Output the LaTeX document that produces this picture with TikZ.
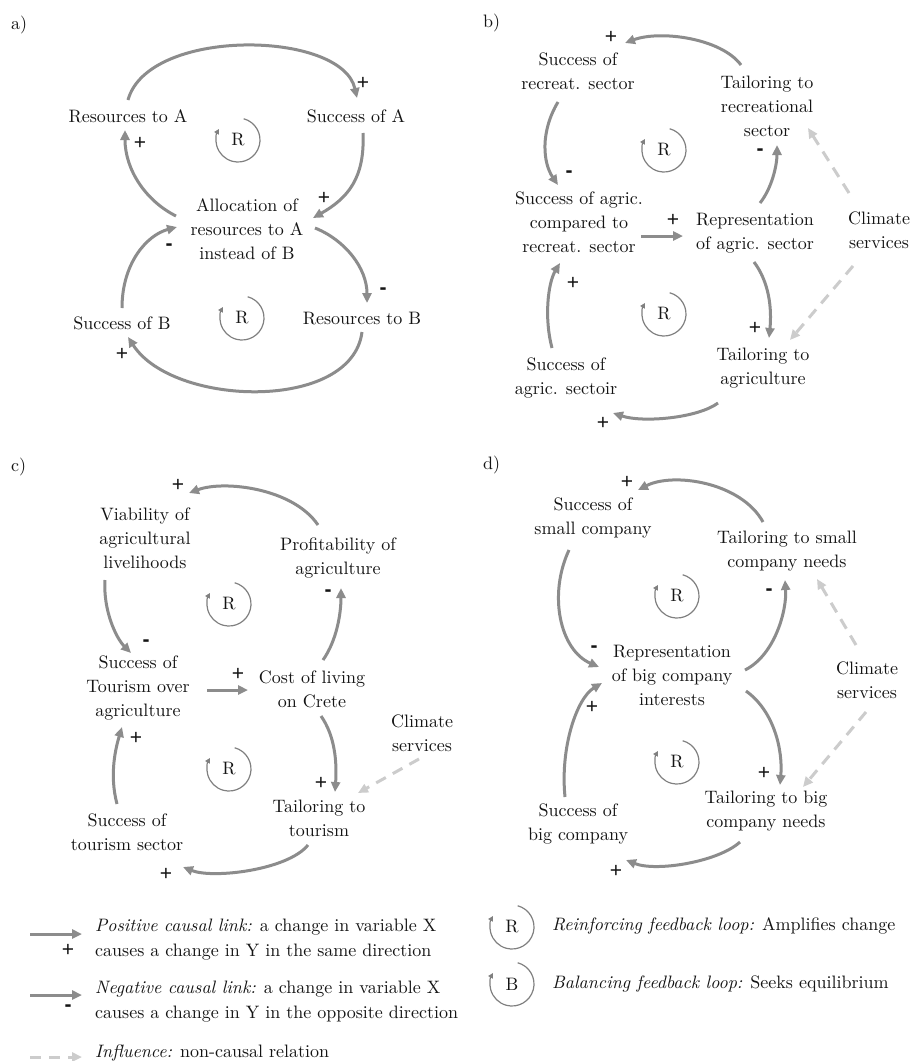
\documentclass[tikz,border=0pt]{standalone}
\usepackage{fontspec}
\setmainfont{lmroman10-regular.otf}[
  BoldFont=lmroman10-bold.otf,
  ItalicFont=lmroman10-italic.otf,
  BoldItalicFont=lmroman10-bolditalic.otf]
\newfontfamily\signfont{Liberation Sans}
\usetikzlibrary{arrows.meta,calc}
\definecolor{linkgray}{RGB}{140,140,140}
\definecolor{infgray}{RGB}{204,204,204}
\definecolor{loopgray}{RGB}{128,128,128}
\definecolor{inkcol}{RGB}{20,20,20}

\tikzset{
  var/.style={align=center, inner sep=0pt, text=inkcol, font=\fontsize{18}{24}\selectfont},
  link/.style={draw=linkgray, line width=3pt, -{Triangle[length=10pt,width=9pt]}},
  influence/.style={draw=infgray, line width=3pt, dash pattern=on 11pt off 8pt, -{Triangle[length=10pt,width=9pt]}},
  plus/.style={font=\signfont\fontsize{21}{21}\selectfont, inner sep=0pt, text=inkcol},
  minus/.style={font=\signfont\bfseries\fontsize{21}{21}\selectfont, inner sep=0pt, text=inkcol},
  panel/.style={anchor=west, inner sep=0pt, text=inkcol, font=\fontsize{18}{24}\selectfont},
  legend/.style={anchor=west, align=left, inner sep=0pt, text=inkcol, font=\fontsize{18}{25}\selectfont},
  pics/fbloop/.style={code={
    \begin{scope}[x=1pt,y=1pt]
      \draw[draw=loopgray, line width=1.2pt, -{Triangle[length=5pt,width=5pt]}]
        (75:22) arc[start angle=75, end angle=-210, radius=22];
      \node[var] (-txt) at (0,0) {#1};
    \end{scope}}},
}

\begin{document}
\begin{tikzpicture}[x=1pt, y=-1pt]
\fill[white] (0,0) rectangle (914,1061);
\useasboundingbox (0,0) rectangle (914,1061);

% ---------------- a) ----------------
\node[panel] (aLab) at (11,25) {a)};
\node[var] (aRA) at (128,116) {Resources to A};
\node[var] (aSA) at (356,116) {Success of A};
\node[var] (aAl) at (247,229) {Allocation of\\resources to A\\instead of B};
\node[var] (aSB) at (122,323) {Success of B};
\node[var] (aRB) at (362,319) {Resources to B};
\pic (aL1) at (238,140) {fbloop=R};
\pic (aL2) at (242,318) {fbloop=R};

\draw[link] ($(aRA)+(0,-16)$) .. controls +(20,-73) and +(-15,-68) .. ($(aSA)+(1,-18)$);
\draw[link] ($(aSA)+(7,17)$) .. controls +(2,45) and +(35,-20) .. ($(aAl)+(66,-11)$);
\draw[link] ($(aAl)+(-71,-13)$) .. controls +(-30,-15) and +(0,40) .. ($(aRA)+(-3,14)$);
\draw[link] ($(aAl)+(68,-1)$) .. controls +(30,12) and +(0,-35) .. ($(aRB)+(5,-16)$);
\draw[link] ($(aRB)+(0,13)$) .. controls +(-10,80) and +(45,70) .. ($(aSB)+(6,14)$);
\draw[link] ($(aSB)+(0,-15)$) .. controls +(0,-45) and +(-30,8) .. ($(aAl)+(-70,-2)$);

\node[plus] (aP1) at (363,83) {+};
\node[plus] (aP2) at (324,198) {+};
\node[plus] (aP3) at (140,143) {+};
\node[minus] (aM1) at (383,291) {-};
\node[plus] (aP4) at (122,354) {+};
\node[minus] (aM2) at (169,247) {-};

% ---------------- b) ----------------
\node[panel] (bLab) at (483,23) {b)};
\node[var] (bSR) at (578,71) {Success of\\recreat. sector};
\node[var] (bTR) at (767,106) {Tailoring to\\recreational\\sector};
\node[var] (bSC) at (579,222) {Success of agric.\\compared to\\recreat. sector};
\node[var] (bRep) at (755,233) {Representation\\of agric. sector};
\node[var] (bCS) at (879,230) {Climate\\services};
\node[var] (bTA) at (763,368) {Tailoring to\\agriculture};
\node[var] (bSA) at (566,378) {Success of\\agric. sectoir};
\pic (bL1) at (664,150) {fbloop=R};
\pic (bL2) at (664,314) {fbloop=R};

\draw[link] ($(bTR)+(-26,-41)$) .. controls +(-20,-27) and +(35,-13) .. ($(bSR)+(47,-28)$);
\draw[link] ($(bSR)+(-20,31)$) .. controls +(-18,30) and +(-15,-22) .. ($(bSC)+(-21,-37)$);
\draw[link] ($(bSC)+(62,14)$) -- ($(bRep)+(-72,3)$);
\draw[link] ($(bRep)+(5,-30)$) .. controls +(12,-15) and +(0,20) .. ($(bTR)+(10,39)$);
\draw[link] ($(bRep)+(-1,29)$) .. controls +(15,20) and +(3,-30) .. ($(bTA)+(6,-30)$);
\draw[link] ($(bTA)+(-45,35)$) .. controls +(-20,15) and +(30,10) .. ($(bSA)+(47,35)$);
\draw[link] ($(bSA)+(-14,-30)$) .. controls +(-8,-30) and +(-12,20) .. ($(bSC)+(-19,41)$);
\draw[influence] ($(bCS)+(-30,-37)$) -- ($(bTR)+(41,22)$);
\draw[influence] ($(bCS)+(-26,36)$) -- ($(bTA)+(27,-28)$);

\node[plus] (bP1) at (611,37) {+};
\node[minus] (bM1) at (569,174) {-};
\node[plus] (bP2) at (673,220) {+};
\node[minus] (bM2) at (760,152) {-};
\node[plus] (bP3) at (755,328) {+};
\node[plus] (bP4) at (603,423) {+};
\node[plus] (bP5) at (573,283) {+};

% ---------------- c) ----------------
\node[panel] (cLab) at (11,467) {c)};
\node[var] (cVi) at (145,538) {Viability of\\agricultural\\livelihoods};
\node[var] (cPr) at (338,558) {Profitability of\\agriculture};
\node[var] (cSt) at (138,688) {Success of\\Tourism over\\agriculture};
\node[var] (cCo) at (312,689) {Cost of living\\on Crete};
\node[var] (cCS) at (422,733) {Climate\\services};
\node[var] (cTT) at (319,818) {Tailoring to\\tourism};
\node[var] (cSs) at (127,832) {Success of\\tourism sector};
\pic (cL1) at (229,604) {fbloop=R};
\pic (cL2) at (229,769) {fbloop=R};

\draw[link] ($(cPr)+(-20,-33)$) .. controls +(-25,-37) and +(35,-13) .. ($(cVi)+(44,-45)$);
\draw[link] ($(cVi)+(-40,42)$) .. controls +(-2,30) and +(-15,-15) .. ($(cSt)+(-7,-35)$);
\draw[link] ($(cSt)+(69,2)$) -- ($(cCo)+(-64,1)$);
\draw[link] ($(cCo)+(11,-29)$) .. controls +(14,-20) and +(0,25) .. ($(cPr)+(3,30)$);
\draw[link] ($(cCo)+(9,27)$) .. controls +(14,20) and +(2,-30) .. ($(cTT)+(16,-26)$);
\draw[link] ($(cTT)+(-11,27)$) .. controls +(-20,25) and +(30,12) .. ($(cSs)+(56,35)$);
\draw[link] ($(cSs)+(-10,-28)$) .. controls +(-8,-30) and +(-6,20) .. ($(cSt)+(-16,39)$);
\draw[influence] ($(cCS)+(-3,26)$) -- ($(cTT)+(39,-25)$);

\node[plus] (cP1) at (178,485) {+};
\node[minus] (cM1) at (146,643) {-};
\node[plus] (cP2) at (238,674) {+};
\node[minus] (cM2) at (328,593) {-};
\node[plus] (cP3) at (321,783) {+};
\node[plus] (cP4) at (166,874) {+};
\node[plus] (cP5) at (136,738) {+};

% ---------------- d) ----------------
\node[panel] (dLab) at (483,465) {d)};
\node[var] (dSs) at (593,518) {Success of\\small company};
\node[var] (dTs) at (787,551) {Tailoring to small\\company needs};
\node[var] (dRe) at (672,675) {Representation\\of big company\\interests};
\node[var] (dCS) at (867,680) {Climate\\services};
\node[var] (dTb) at (766,811) {Tailoring to big\\company needs};
\node[var] (dSb) at (578,824) {Success of\\big company};
\pic (dL1) at (677,596) {fbloop=R};
\pic (dL2) at (677,762) {fbloop=R};

\draw[link] ($(dTs)+(-24,-29)$) .. controls +(-22,-40) and +(35,-18) .. ($(dSs)+(45,-28)$);
\draw[link] ($(dSs)+(-24,32)$) .. controls +(-21,45) and +(-39,-17) .. ($(dRe)+(-73,-8)$);
\draw[link] ($(dRe)+(73,-5)$) .. controls +(30,-15) and +(2,30) .. ($(dTs)+(-2,29)$);
\draw[link] ($(dRe)+(74,16)$) .. controls +(28,20) and +(3,-35) .. ($(dTb)+(14,-26)$);
\draw[link] ($(dTb)+(-26,31)$) .. controls +(-22,20) and +(30,12) .. ($(dSb)+(48,36)$);
\draw[link] ($(dSb)+(-13,-27)$) .. controls +(-5,-50) and +(-25,15) .. ($(dRe)+(-70,8)$);
\draw[influence] ($(dCS)+(-11,-35)$) -- ($(dTs)+(30,28)$);
\draw[influence] ($(dCS)+(-1,32)$) -- ($(dTb)+(37,-24)$);

\node[plus] (dP1) at (627,482) {+};
\node[minus] (dM1) at (594,649) {-};
\node[minus] (dM2) at (769,592) {-};
\node[plus] (dP2) at (764,773) {+};
\node[plus] (dP3) at (616,871) {+};
\node[plus] (dP4) at (592,707) {+};

% ---------------- legend ----------------
\coordinate (lpA) at (30,934);  \coordinate (lpB) at (82,934);
\coordinate (lnA) at (30,995);  \coordinate (lnB) at (82,995);
\coordinate (liA) at (30,1057); \coordinate (liB) at (82,1057);
\draw[link] (lpA) -- (lpB);
\draw[link] (lnA) -- (lnB);
\draw[influence] (liA) -- (liB);
\node[plus] (lP) at (68,950) {+};
\node[minus] (lM) at (68,1008) {-};
\node[legend] (lPos) at (95,939.5) {\textit{Positive causal link:} a change in variable X\\causes a change in Y in the same direction};
\node[legend] (lNeg) at (95,1001.5) {\textit{Negative causal link:} a change in variable X\\causes a change in Y in the opposite direction};
\node[legend] (lInf) at (95,1053) {\textit{Influence:} non-causal relation};
\pic (lR) at (512,927) {fbloop=R};
\pic (lB) at (512,984) {fbloop=B};
\node[legend] (lRt) at (552,926) {\textit{Reinforcing feedback loop:} Amplifies change};
\node[legend] (lBt) at (552,984) {\textit{Balancing feedback loop:} Seeks equilibrium};
\end{tikzpicture}
\end{document}
